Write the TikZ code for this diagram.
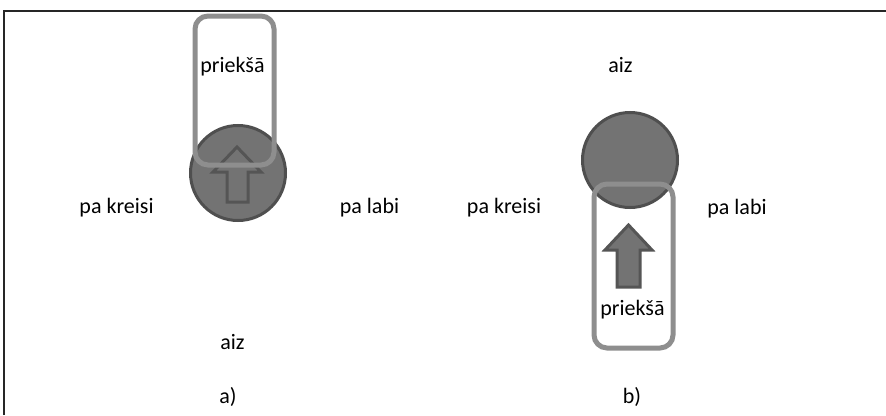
\documentclass[tikz,border=0pt]{standalone}
\usepackage{fontspec}
\setmainfont{Carlito}
\begin{document}
\begin{tikzpicture}[x=1pt,y=-1pt,
  lbl/.style={font=\fontsize{22}{26}\selectfont, inner sep=0pt, anchor=base},
  ball/.style={fill=ballgray, draw=balledge, line width=3pt},
  frontbox/.style={draw=boxgray, line width=5pt, rounded corners=13pt},
  uparrow/.style={fill=ballgray, draw=arrowedge, line width=3pt, line join=miter}]
\definecolor{ballgray}{HTML}{737373}
\definecolor{balledge}{HTML}{4F4F4F}
\definecolor{arrowedge}{HTML}{555555}
\definecolor{boxgray}{HTML}{8E8E8E}
\useasboundingbox (0,0) rectangle (886,415);
% frame lines
\draw[line width=1.5pt, black!85] (4,415) -- (4,11) -- (886,11);

% --- a) ---
\node[ball, circle, minimum size=95pt, inner sep=0pt] (ca) at (238,173) {};
\draw[uparrow] (237,147) -- (261,172) -- (248,172) -- (248,202) -- (227,202) -- (227,172) -- (213,172) -- cycle;
\node[frontbox, minimum width=79pt, minimum height=149pt, inner sep=0pt] (ba) at (234.5,90.5) {};
\node[lbl] (fa) at (232.5,72) {priekšā};
\node[lbl] (la) at (116.5,213) {pa kreisi};
\node[lbl] (ra) at (369.5,213) {pa labi};
\node[lbl] (ba2) at (232.5,349) {aiz};
\node[lbl] (ta) at (228,403) {a)};

% --- b) ---
\node[ball, circle, minimum size=95pt, inner sep=0pt] (cb) at (630,160) {};
\node[frontbox, minimum width=79pt, minimum height=164pt, inner sep=0pt] (bb) at (633.5,266) {};
\draw[uparrow] (628.5,225) -- (652,250) -- (640,250) -- (640,287) -- (617,287) -- (617,250) -- (605,250) -- cycle;
\node[lbl] (fb) at (632.5,315) {priekšā};
\node[lbl] (lb) at (504,213) {pa kreisi};
\node[lbl] (rb) at (737,214) {pa labi};
\node[lbl] (bb2) at (620.5,72) {aiz};
\node[lbl] (tb) at (632,403) {b)};
\end{tikzpicture}
\end{document}
